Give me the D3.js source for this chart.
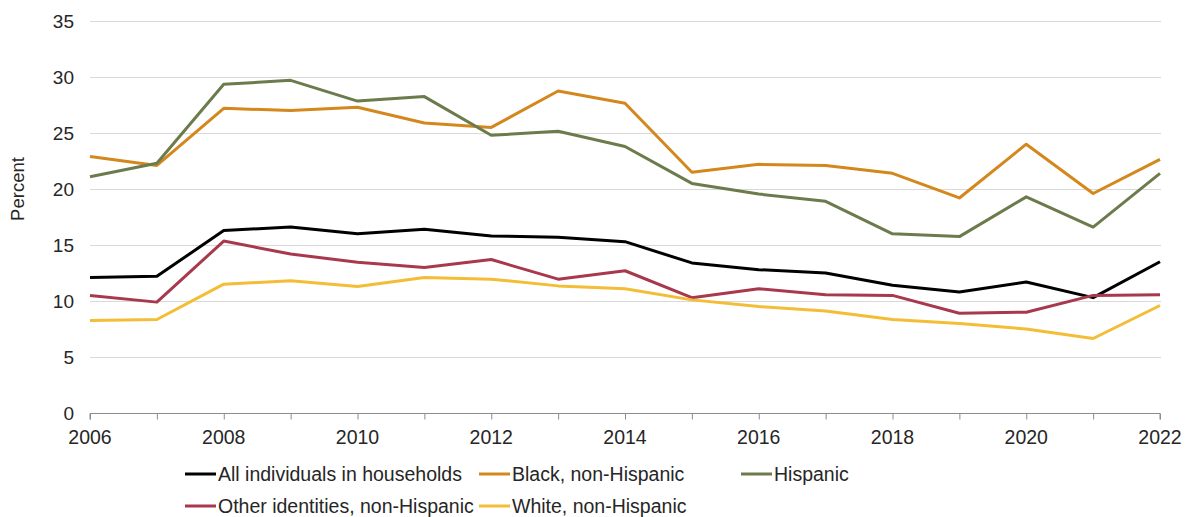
<!DOCTYPE html>
<html>
<head>
<meta charset="utf-8">
<script src="https://cdn.jsdelivr.net/npm/d3@7"></script>
<style>
  html, body { margin: 0; padding: 0; background: #fff; }
  svg { display: block; font-family: "Liberation Sans", Arial, sans-serif; }
</style>
</head>
<body>
<svg id="chart" width="1192" height="517"></svg>
<script>
const years = [2006,2007,2008,2009,2010,2011,2012,2013,2014,2015,2016,2017,2018,2019,2020,2021,2022];
const allIndividuals = [12.1,12.2,16.3,16.6,16.0,16.4,15.8,15.7,15.3,13.4,12.8,12.5,11.4,10.8,11.7,10.3,13.5];
const blackNonHispanic = [22.9,22.1,27.2,27.0,27.3,25.9,25.5,28.75,27.65,21.5,22.2,22.1,21.4,19.2,24.0,19.6,22.65];
const hispanic = [21.1,22.3,29.35,29.7,27.85,28.25,24.8,25.15,23.8,20.5,19.55,18.9,16.0,15.75,19.3,16.6,21.4];
const otherNonHispanic = [10.5,9.9,15.35,14.2,13.45,13.0,13.7,11.95,12.7,10.3,11.1,10.55,10.5,8.9,9.0,10.5,10.55];
const whiteNonHispanic = [8.25,8.35,11.5,11.8,11.3,12.1,11.95,11.35,11.1,10.1,9.5,9.1,8.35,8.0,7.5,6.65,9.6];
const yTicks = [0,5,10,15,20,25,30,35];
const xLabelYears = [2006,2008,2010,2012,2014,2016,2018,2020,2022];
const seriesNames = ["All individuals in households","Black, non-Hispanic","Hispanic","Other identities, non-Hispanic","White, non-Hispanic"];

const colors = ["#000000","#d4871c","#6b7b4b","#a8394d","#f3be35"];
const seriesData = [allIndividuals, blackNonHispanic, hispanic, otherNonHispanic, whiteNonHispanic];

const svg = d3.select("#chart");
const x = d3.scaleLinear().domain([2006, 2022]).range([90, 1160]);
const y = d3.scaleLinear().domain([0, 35]).range([413, 21]);

// gridlines
svg.append("g").selectAll("line").data(yTicks.filter(d => d > 0)).join("line")
  .attr("x1", x(2006)).attr("x2", x(2022) + 1)
  .attr("y1", d => y(d) + 0.5).attr("y2", d => y(d) + 0.5)
  .attr("stroke", "#d9d9d9").attr("stroke-width", 1);

// y labels
svg.append("g").selectAll("text").data(yTicks).join("text")
  .attr("x", 74).attr("y", d => y(d)).attr("dy", "0.35em")
  .attr("text-anchor", "end").attr("font-size", 19).attr("fill", "#262626")
  .text(d => d);

// x axis
const xAxis = d3.axisBottom(x).tickValues(years).tickSize(6).tickFormat("");
const gx = svg.append("g").attr("transform", `translate(0,${413.5})`).call(xAxis);
gx.select(".domain").attr("stroke", "#8c8c8c").attr("d", `M${x(2006)},6V0H${x(2022)}V6`);
gx.selectAll(".tick line").attr("stroke", "#8c8c8c");

svg.append("g").selectAll("text").data(xLabelYears).join("text")
  .attr("x", d => x(d)).attr("y", 444)
  .attr("text-anchor", "middle").attr("font-size", 19.5).attr("fill", "#262626")
  .text(d => d);

// y title
svg.append("text")
  .attr("transform", "translate(24,189) rotate(-90)")
  .attr("text-anchor", "middle").attr("font-size", 18.5).attr("fill", "#262626")
  .text("Percent");

// lines
const line = d3.line().x((d, i) => x(years[i])).y(d => y(d));
svg.append("g").selectAll("path").data(seriesData).join("path")
  .attr("d", d => line(d))
  .attr("fill", "none")
  .attr("stroke", (d, i) => colors[i])
  .attr("stroke-width", 3)
  .attr("stroke-linejoin", "round");

// legend
const legendPos = [
  {x: 185, y: 474}, {x: 479, y: 474}, {x: 741, y: 474},
  {x: 185, y: 506}, {x: 479, y: 506}
];
const lg = svg.append("g").selectAll("g").data(seriesNames).join("g")
  .attr("transform", (d, i) => `translate(${legendPos[i].x},${legendPos[i].y})`);
lg.append("line").attr("x1", 0).attr("x2", 31).attr("y1", 0).attr("y2", 0)
  .attr("stroke", (d, i) => colors[i]).attr("stroke-width", 3);
lg.append("text").attr("x", 33).attr("y", 0).attr("dy", "0.35em")
  .attr("font-size", 19.5).attr("fill", "#262626")
  .text(d => d);
</script>
</body>
</html>
